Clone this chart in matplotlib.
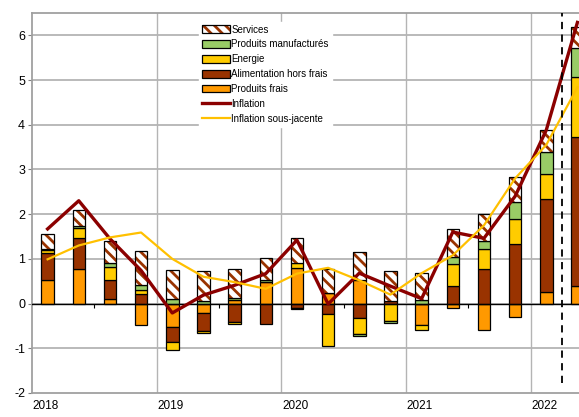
import numpy as np
import matplotlib
matplotlib.use("Agg")
import matplotlib.pyplot as plt
from matplotlib.patches import Patch
from matplotlib.lines import Line2D

plt.rcParams["font.family"] = ["Liberation Sans Narrow", "Liberation Sans", "DejaVu Sans"]
plt.rcParams["axes.unicode_minus"] = False
plt.rcParams["hatch.linewidth"] = 2.0

# quarterly contributions, 2018 Q1 -> 2022 Q2
years = ["2018", "2019", "2020", "2021", "2022"]
produits_frais = [0.52, 0.78, 0.10, -0.48, -0.52, -0.22, 0.09, 0.48, 0.80, 0.24, 0.52, 0.00,
                  -0.49, -0.09, -0.60, -0.30, 0.25, 0.40]
alim_hors_frais = [0.61, 0.69, 0.42, 0.22, -0.35, -0.39, -0.41, -0.46, -0.09, -0.24, -0.33, 0.05,
                   0.00, 0.40, 0.78, 1.34, 2.10, 3.32]
energie = [0.07, 0.21, 0.29, 0.09, -0.17, -0.04, -0.05, 0.00, 0.11, -0.71, -0.35, -0.39,
           -0.10, 0.48, 0.43, 0.56, 0.55, 1.34]
manufactures = [0.03, 0.05, 0.09, 0.10, 0.10, 0.06, 0.04, 0.04, -0.04, 0.00, -0.04, -0.04,
                0.09, 0.16, 0.19, 0.37, 0.48, 0.65]
services = [0.32, 0.36, 0.51, 0.76, 0.66, 0.67, 0.64, 0.50, 0.56, 0.54, 0.63, 0.67,
            0.60, 0.62, 0.61, 0.56, 0.50, 0.48]
inflation = [1.67, 2.30, 1.45, 0.74, -0.21, 0.19, 0.41, 0.67, 1.42, -0.01, 0.68, 0.39,
             0.11, 1.60, 1.46, 2.40, 3.88, 6.29]
sous_jacente = [0.99, 1.30, 1.48, 1.59, 1.00, 0.60, 0.48, 0.33, 0.67, 0.80, 0.52, 0.20,
                0.68, 1.08, 1.75, 2.80, 3.55, 4.84]

ORANGE, BROWN, YELLOW, GREEN = "#ff9900", "#993300", "#ffcc00", "#99cc66"
RED, GOLD = "#8b0000", "#ffc000"
HATCH = "\\\\\\"

x = np.arange(len(inflation))
w = 0.4

fig = plt.figure(figsize=(5.79, 4.17), dpi=100)
ax = fig.add_axes([0.0553, 0.0576, 1 - 0.0553, 0.9688 - 0.0576])

# grid
for v in range(-1, 7):
    ax.axhline(v, color="#b4b4b4", lw=1.3, zorder=0)
for b in [3.5, 7.5, 11.5, 15.5]:
    ax.axvline(b, color="#b4b4b4", lw=1.0, zorder=0)

pos_bot = np.zeros(len(x))
neg_bot = np.zeros(len(x))
series = [(produits_frais, ORANGE), (alim_hors_frais, BROWN), (energie, YELLOW), (manufactures, GREEN)]
for vals, col in series:
    v = np.array(vals)
    bot = np.where(v >= 0, pos_bot, neg_bot)
    ax.bar(x, v, w, bottom=bot, color=col, edgecolor="black", lw=0.9, zorder=3)
    pos_bot += np.clip(v, 0, None)
    neg_bot += np.clip(v, None, 0)

s = np.array(services)
sbot = np.where(s >= 0, pos_bot, neg_bot)
ax.bar(x, s, w, bottom=sbot, color="white", edgecolor=BROWN, hatch=HATCH, lw=0, zorder=3)
ax.bar(x, s, w, bottom=sbot, fill=False, edgecolor="black", lw=0.9, zorder=3)

ax.axhline(0, color="black", lw=1.0, zorder=4)
ax.vlines([1.5, 5.5, 9.5, 13.5], -0.1, 0, color="black", lw=0.8, zorder=4)

ax.plot(x, inflation, color=RED, lw=2.4, zorder=5)
ax.plot(x, sous_jacente, color=GOLD, lw=1.6, zorder=6)

ax.vlines(16.5, -1.78, 6.5, color="black", lw=1.3, linestyles=(0, (4, 3)), zorder=6)

ax.set_xlim(-0.5, 17.05)
ax.set_ylim(-2, 6.5)
ax.set_yticks(range(-2, 7))
ax.set_xticks([4 * i - 0.05 for i in range(len(years))])
ax.set_xticklabels(years)
ax.tick_params(axis="x", length=0, labelsize=8.5, pad=5)
ax.tick_params(axis="y", length=3, color="#808080", labelsize=9, pad=2)
ax.spines["right"].set_visible(False)
for sp in ["left", "bottom", "top"]:
    ax.spines[sp].set_color("#a0a0a0")
    ax.spines[sp].set_linewidth(1.3)

serv_handle = (Patch(facecolor="white", edgecolor=BROWN, hatch=HATCH, lw=0),
               Patch(fill=False, edgecolor="black", lw=0.9))
handles = [
    serv_handle,
    Patch(facecolor=GREEN, edgecolor="black", lw=0.9),
    Patch(facecolor=YELLOW, edgecolor="black", lw=0.9),
    Patch(facecolor=BROWN, edgecolor="black", lw=0.9),
    Patch(facecolor=ORANGE, edgecolor="black", lw=0.9),
    Line2D([], [], color=RED, lw=2.4),
    Line2D([], [], color=GOLD, lw=1.6),
]
labels = ["Services", "Produits manufacturés", "Energie", "Alimentation hors frais",
          "Produits frais", "Inflation", "Inflation sous-jacente"]
leg = ax.legend(handles, labels, loc="upper left", bbox_to_anchor=(0.297, 0.99), frameon=True,
                fontsize=7, handlelength=2.9, handleheight=0.8, handletextpad=0.1,
                labelspacing=0.5, borderpad=0.3, fancybox=False)
leg.get_frame().set_edgecolor("white")
leg.get_frame().set_facecolor("white")
leg.get_frame().set_alpha(1)
leg.set_zorder(7)

fig.savefig("out.png", dpi=100)
